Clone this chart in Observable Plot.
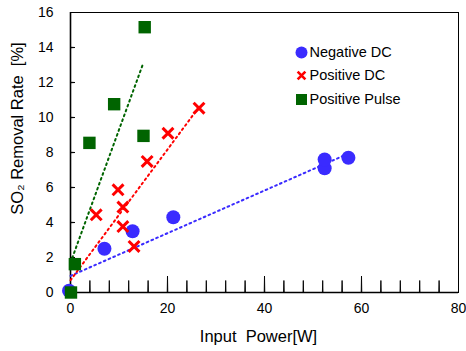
<!DOCTYPE html>
<html>
<head>
<meta charset="utf-8">
<script src="https://cdn.jsdelivr.net/npm/d3@7"></script>
<script src="https://cdn.jsdelivr.net/npm/@observablehq/plot@0.6"></script>
<style>
  html, body { margin: 0; padding: 0; background: white; }
</style>
</head>
<body>
<div id="chart"></div>
<script>
// ---- data ----
const negX = [-0.3, 7.0, 12.8, 21.2, 52.4, 52.4, 57.3];
const negY = [0.1, 2.5, 3.5, 4.3, 7.1, 7.6, 7.7];

const posX = [5.3, 9.8, 10.8, 10.8, 13.1, 15.8, 20.1, 26.5];
const posY = [4.44, 5.87, 4.88, 3.77, 2.63, 7.49, 9.1, 10.53];

const pulseX = [0.1, 0.9, 3.9, 9.0, 15.05, 15.3];
const pulseY = [0, 1.62, 8.55, 10.76, 8.95, 15.16];

// fitted trend lines (end points)
const negFitX = [0, 57];
const negFitY = [0.95, 7.9];
const posFitX = [0, 26.5];
const posFitY = [0.7, 10.6];
const pulseFitX = [0, 15];
const pulseFitY = [1.7, 13.1];

const xTicks = [0, 20, 40, 60, 80];
const xMinorTicks = d3.range(4, 80, 4);
const yTicks = [0, 2, 4, 6, 8, 10, 12, 14, 16];
const seriesNames = ["Negative DC", "Positive DC", "Positive Pulse"];
const xTitle = "Input  Power[W]";
const yTitle = "SO\u2082 Removal Rate  [%]";

// ---- styles ----
const BLUE = "#3a2bff";
const RED = "#ff0000";
const GREEN = "#006400";
const DOTS = "1.8,3.4";

const zip = (xs, ys) => xs.map((x, i) => ({x, y: ys[i]}));
const neg = zip(negX, negY);
const pos = zip(posX, posY);
const pulse = zip(pulseX, pulseY);
const negFit = zip(negFitX, negFitY);
const posFit = zip(posFitX, posFitY);
const pulseFit = zip(pulseFitX, pulseFitY);

const legendSymbols = [
  {symbol: "circle", fill: BLUE, stroke: "none", r: 6, sw: 0},
  {symbol: "times", fill: "none", stroke: RED, r: 3.6, sw: 2.6},
  {symbol: "square", fill: GREEN, stroke: "none", r: 6.2, sw: 0}
];
const legendRowDy = [40, 63, 87];

const legendMarks = seriesNames.flatMap((name, i) => [
  Plot.dot([name], {
    frameAnchor: "top-left", dx: 231, dy: legendRowDy[i],
    symbol: legendSymbols[i].symbol, r: legendSymbols[i].r,
    fill: legendSymbols[i].fill, stroke: legendSymbols[i].stroke,
    strokeWidth: legendSymbols[i].sw
  }),
  Plot.text([name], {
    frameAnchor: "top-left", dx: 239, dy: legendRowDy[i],
    text: d => d, textAnchor: "start", lineAnchor: "middle",
    fontSize: 14.5, fill: "black"
  })
]);

const chart = Plot.plot({
  width: 466,
  height: 351,
  marginLeft: 70,
  marginTop: 12,
  marginRight: 8,
  marginBottom: 59,
  style: {
    fontFamily: "'Liberation Sans', Arial, sans-serif",
    fontSize: "14px",
    color: "black",
    background: "white",
    overflow: "visible"
  },
  x: {domain: [0, 80]},
  y: {domain: [0, 16]},
  marks: [
    Plot.frame({stroke: "black", strokeWidth: 1}),
    // inward ticks (thin spikes)
    Plot.vector(xMinorTicks, {x: d => d, y: 0, length: d => (d % 20 === 0 ? 5.5 : 4), rotate: 0, anchor: "start", shape: "spike", r: 0.3, fill: "black", stroke: "black", strokeWidth: 0.9}),
    Plot.vector(yTicks.slice(1, -1), {x: 0, y: d => d, length: 4.5, rotate: 90, anchor: "start", shape: "spike", r: 0.3, fill: "black", stroke: "black", strokeWidth: 0.9}),
    Plot.ruleX([0], {stroke: "black", strokeWidth: 1.6}),
    Plot.ruleY([0], {stroke: "black", strokeWidth: 1.6}),
    Plot.axisX({ticks: xTicks, tickSize: 0, tickPadding: 11, label: null, fontSize: 14}),
    Plot.axisY({ticks: yTicks, tickSize: 0, tickPadding: 17, label: null, fontSize: 14}),
    // axis titles
    Plot.text([xTitle], {frameAnchor: "bottom", dx: -6, dy: 44, text: d => d, fontSize: 16.5, textAnchor: "middle", lineAnchor: "middle", fill: "black"}),
    Plot.text([yTitle], {frameAnchor: "left", dx: -52.5, dy: -24, rotate: -90, text: d => d, fontSize: 16.5, textAnchor: "middle", lineAnchor: "middle", fill: "black"}),
    // trend lines
    Plot.line(negFit, {x: "x", y: "y", stroke: BLUE, strokeWidth: 2, strokeDasharray: DOTS}),
    Plot.line(posFit, {x: "x", y: "y", stroke: RED, strokeWidth: 2, strokeDasharray: DOTS}),
    Plot.line(pulseFit, {x: "x", y: "y", stroke: GREEN, strokeWidth: 2, strokeDasharray: DOTS}),
    // data
    Plot.dot(neg, {x: "x", y: "y", r: 7, fill: BLUE, symbol: "circle"}),
    Plot.dot(pos, {x: "x", y: "y", r: 5, symbol: "times", stroke: RED, strokeWidth: 3, fill: "none"}),
    Plot.dot(pulse, {x: "x", y: "y", r: 7, fill: GREEN, symbol: "square"}),
    ...legendMarks
  ]
});
document.getElementById("chart").append(chart);
</script>
</body>
</html>
